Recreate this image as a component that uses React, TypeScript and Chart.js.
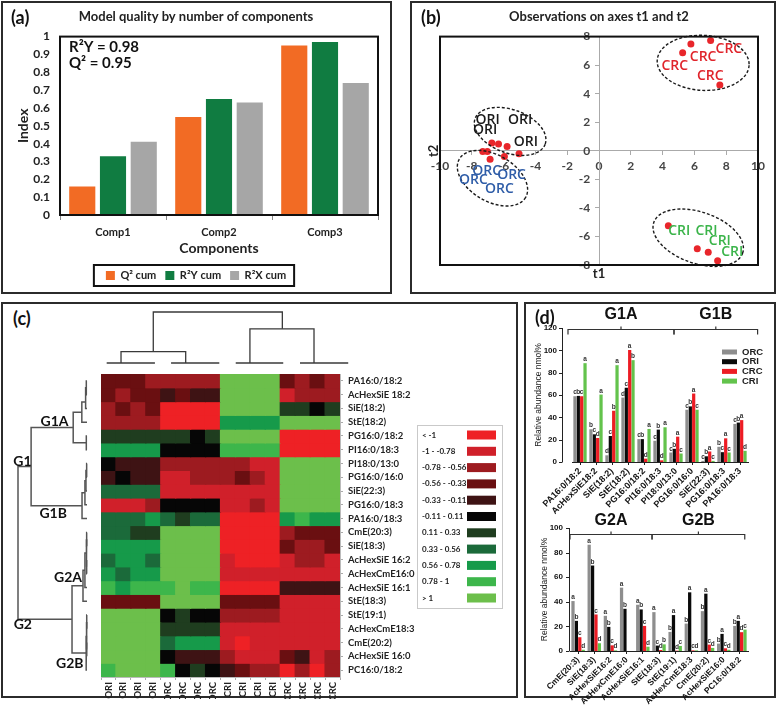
import React, { useEffect, useRef } from 'react';
import { Chart, registerables } from 'chart.js';

Chart.register(...registerables);

const LATO = 'Lato, "Open Sans", sans-serif';
const ARIAL = '"Liberation Sans", Arial, sans-serif';

// ================= Panel (a): model quality =================
const componentLabels = ['Comp1', 'Comp2', 'Comp3'];
const q2Cum = [0.16, 0.55, 0.95];
const r2yCum = [0.33, 0.65, 0.97];
const r2xCum = [0.41, 0.63, 0.74];
const modelStats = ['R²Y = 0.98', 'Q² = 0.95'];

// ================= Panel (b): observations t1/t2 =================
const crcT1 = [5.26, 5.78, 7.02, 7.6];
const crcT2 = [6.86, 7.49, 7.73, 4.61];
const criT1 = [4.36, 6.18, 6.87, 7.46];
const criT2 = [-5.25, -6.86, -7.1, -7.7];
const oriT1 = [-6.74, -6.32, -5.78, -5.03];
const oriT2 = [0.54, 0.47, 0.3, -0.21];
const orcT1 = [-7.31, -7.02, -6.85, -5.95];
const orcT2 = [-0.05, -0.05, -0.59, -0.4];

// ================= Panel (c): heat map =================
const sampleLabels = ['ORI', 'ORI', 'ORI', 'ORI', 'ORC', 'ORC', 'ORC', 'ORC', 'CRI', 'CRI', 'CRI', 'CRI', 'CRC', 'CRC', 'CRC', 'CRC'];
const lipidLabels = [
  'PA16:0/18:2', 'AcHexSiE 18:2', 'SiE(18:2)', 'StE(18:2)', 'PG16:0/18:2', 'PI16:0/18:3',
  'PI18:0/13:0', 'PG16:0/16:0', 'SiE(22:3)', 'PG16:0/18:3', 'PA16:0/18:3', 'CmE(20:3)',
  'SiE(18:3)', 'AcHexSiE 16:2', 'AcHexCmE16:0', 'AcHexSiE 16:1', 'StE(18:3)', 'StE(19:1)',
  'AcHexCmE18:3', 'CmE(20:2)', 'AcHexSiE 16:0', 'PC16:0/18:2',
];
const heatBinLabels = ['< -1', '-1 - -0.78', '-0.78 - -0.56', '-0.56 - -0.33', '-0.33 - -0.11', '-0.11 - 0.11', '0.11 - 0.33', '0.33 - 0.56', '0.56 - 0.78', '0.78 - 1', '> 1'];
// bin index (0 = "< -1" ... 10 = "> 1") per lipid row, per sample column
const heatBins = [
  [3, 3, 3, 2, 2, 2, 2, 2, 10, 10, 10, 10, 3, 2, 3, 2],
  [3, 2, 3, 3, 4, 3, 4, 4, 10, 10, 10, 10, 1, 2, 2, 2],
  [2, 3, 2, 3, 0, 0, 0, 0, 10, 10, 10, 10, 6, 6, 5, 6],
  [2, 2, 2, 2, 0, 0, 0, 0, 8, 8, 8, 8, 10, 10, 10, 10],
  [6, 6, 6, 6, 6, 6, 5, 6, 10, 10, 10, 10, 0, 0, 0, 0],
  [8, 8, 8, 8, 5, 5, 5, 5, 9, 9, 9, 9, 0, 0, 0, 0],
  [5, 4, 4, 4, 2, 2, 2, 2, 2, 2, 1, 1, 10, 10, 10, 10],
  [4, 5, 4, 4, 1, 1, 2, 2, 2, 3, 2, 1, 10, 10, 10, 10],
  [7, 7, 7, 7, 1, 1, 1, 1, 1, 1, 1, 1, 10, 10, 10, 10],
  [1, 1, 1, 2, 5, 5, 5, 5, 1, 1, 2, 1, 10, 10, 10, 10],
  [7, 7, 7, 8, 7, 6, 7, 7, 0, 0, 0, 0, 8, 9, 8, 8],
  [7, 7, 6, 6, 10, 10, 10, 10, 0, 0, 0, 0, 2, 3, 3, 3],
  [8, 8, 8, 8, 10, 10, 10, 10, 0, 0, 0, 0, 3, 2, 2, 3],
  [7, 8, 8, 7, 10, 10, 10, 10, 1, 0, 0, 0, 1, 2, 2, 1],
  [8, 7, 8, 8, 10, 10, 10, 10, 1, 1, 1, 1, 1, 1, 1, 1],
  [9, 8, 9, 9, 9, 10, 9, 9, 0, 0, 0, 0, 4, 4, 4, 4],
  [3, 3, 3, 3, 10, 10, 10, 10, 3, 3, 3, 3, 1, 1, 1, 1],
  [10, 10, 10, 10, 5, 6, 5, 5, 2, 2, 2, 2, 1, 1, 1, 1],
  [10, 10, 10, 10, 6, 6, 6, 6, 1, 1, 1, 1, 1, 1, 1, 1],
  [10, 10, 10, 10, 7, 8, 8, 8, 1, 0, 1, 1, 1, 1, 1, 1],
  [10, 10, 10, 10, 5, 4, 4, 4, 2, 1, 1, 1, 3, 4, 1, 2],
  [9, 10, 10, 10, 9, 5, 6, 5, 4, 3, 2, 2, 0, 2, 0, 2],
];
// dendrogram links: [left position, right position, left child height, right child height, merge height]
const colLinks = [
  [-0.12, 3.11, 0, 0, 0],
  [4.19, 7.42, 0, 0, 0],
  [8.52, 11.7, 0, 0, 0],
  [12.82, 16.05, 0, 0, 0],
  [0.84, 5.17, 0, 0, 0.224],
  [9.47, 13.76, 0, 0, 0.671],
  [3.0, 11.64, 0.224, 0.671, 1],
];
const rowLinks = [
  [0, 1, 0, 0, 0.01],
  [0.5, 2, 0.01, 0, 0.02],
  [1.54, 3, 0.02, 0, 0.075],
  [4, 5, 0, 0, 0.01],
  [2.27, 4.5, 0.075, 0.01, 0.2],
  [6, 7, 0, 0, 0.005],
  [6.5, 8, 0.005, 0, 0.015],
  [7.25, 9, 0.015, 0, 0.03],
  [8.12, 10, 0.03, 0, 0.072],
  [3.39, 9.06, 0.2, 0.072, 0.81],
  [11, 12, 0, 0, 0.005],
  [13, 14, 0, 0, 0.005],
  [11.5, 13.5, 0.005, 0.005, 0.01],
  [12.5, 15, 0.01, 0, 0.03],
  [13.75, 16, 0.03, 0, 0.058],
  [17, 18, 0, 0, 0.004],
  [19, 20, 0, 0, 0.004],
  [17.5, 19.5, 0.004, 0.004, 0.008],
  [18.5, 21, 0.008, 0, 0.012],
  [14.88, 19.75, 0.058, 0.012, 0.217],
  [6.22, 17.3, 0.81, 0.217, 1],
];
const rowClusterNames = ['G1', 'G1A', 'G1B', 'G2', 'G2A', 'G2B'];

// ================= Panel (d): relative abundance =================
const abundanceGroups = ['ORC', 'ORI', 'CRC', 'CRI'];
const g1Lipids = ['PA16:0/18:2', 'AcHexSiE18:2', 'SiE(18:2)', 'StE(18:2)', 'PG16:0/18:2', 'PI16:0/18:3', 'PI18:0/13:0', 'PG16:0/16:0', 'SiE(22:3)', 'PG16:0/18:3', 'PA16:0/18:3'];
const g1ORC = [58.9, 29.3, 6.0, 57.7, 20.5, 19.0, 8.5, 46.8, 1.0, 13.6, 34.1];
const g1ORI = [59.2, 24.8, 23.3, 66.5, 20.5, 29.0, 11.8, 49.8, 5.1, 8.8, 35.3];
const g1CRC = [58.9, 21.5, 45.9, 100.3, 3.0, 1.5, 22.7, 61.3, 9.4, 21.2, 37.5];
const g1CRI = [88.5, 60.4, 86.7, 91.2, 29.6, 31.1, 7.6, 46.8, 1.0, 8.5, 10.0];
const g1Letters = [
  ['c', 'b', 'd', 'd', 'c', 'c', 'c', 'c', 'c', 'b', 'c'],
  ['b', 'c', 'c', 'c', 'b', 'b', 'b', 'b', 'b', 'c', 'b'],
  ['c', 'd', 'b', 'a', 'd', 'd', 'a', 'a', 'a', 'a', 'a'],
  ['a', 'a', 'a', 'b', 'a', 'a', 'c', 'c', 'c', 'c', 'd'],
];
const g2Lipids = ['CmE(20:3)', 'SiE(18:3)', 'AcHexSiE16:2', 'AcHexCmE16:0', 'AcHexSiE16:1', 'StE(18:3)', 'StE(19:1)', 'AcHexCmE18:3', 'CmE(20:2)', 'AcHexSiE16:0', 'PC16:0/18:2'];
const g2ORC = [40.6, 86.4, 28.6, 51.5, 37.6, 31.6, 15.5, 22.3, 32.4, 6.0, 20.4];
const g2ORI = [24.5, 69.5, 19.6, 34.3, 33.8, 4.4, 29.2, 47.7, 46.6, 13.9, 24.5];
const g2CRC = [11.2, 29.7, 4.6, 0, 20.4, 0.8, 0.3, 0.5, 5.2, 2.2, 15.3];
const g2CRI = [1.0, 6.3, 0.5, 0, 3.5, 5.4, 4.1, 0.5, 2.5, 1.0, 17.4];
const g2Letters = [
  ['a', 'a', 'a', 'a', 'a', 'a', 'b', 'b', 'b', 'b', 'b'],
  ['b', 'b', 'b', 'b', 'b', 'c', 'a', 'a', 'a', 'a', 'a'],
  ['c', 'c', 'c', '', 'c', 'd', 'd', 'c', 'c', 'c', 'd'],
  ['d', 'd', 'd', '', 'd', 'b', 'c', 'd', 'd', 'd', 'c'],
];

// ================= styling / annotation config =================
const heatColors = ['#EE2125', '#D0202A', '#9D1B20', '#6A0F11', '#3E1314', '#060606', '#1F3D1F', '#1B6A3A', '#169A4A', '#3DB64B', '#6CBF4B'];
const groupColors = ['#8E8E8E', '#0A0A0A', '#ED1C24', '#63C34C'];
const scoreTagColors = { ORI: '#1A1A1A', ORC: '#2F5DA8', CRC: '#E0242B', CRI: '#3BB44A' };
const scoreTags = [
  ['ORI', -7.0, 2.18], ['ORI', -4.96, 2.18], ['ORI', -7.16, 1.43], ['ORI', -4.6, 0.59],
  ['ORC', -7.06, -1.4], ['ORC', -5.5, -1.69], ['ORC', -7.9, -2.04], ['ORC', -6.26, -2.67],
  ['CRC', 8.17, 7.1], ['CRC', 6.55, 6.58], ['CRC', 4.77, 5.93], ['CRC', 7.0, 5.22],
  ['CRI', 5.05, -5.62], ['CRI', 6.76, -5.62], ['CRI', 7.6, -6.3], ['CRI', 8.38, -7.07],
];
// ellipse centre in data units, radii in px, rotation in degrees
const scoreEllipses = [
  [6.55, 6.16, 46, 27.5, 3],
  [6.24, -6.09, 47, 25.7, 19],
  [-5.59, 1.36, 37.3, 21.7, 20],
  [-6.7, -1.92, 38.3, 23.3, 30],
];
const rowClusterTagPos = [[0.936, 5.86], [0.47, 2.95], [0.49, 9.6], [0.93, 17.7], [0.275, 14.3], [0.25, 20.5]];

// ================= plugins =================
const plotFrame = {
  id: 'plotFrame',
  afterDraw(chart: any) {
    const { ctx, chartArea: a } = chart;
    ctx.save();
    ctx.strokeStyle = '#111';
    ctx.lineWidth = 2;
    ctx.strokeRect(a.left, a.top, a.right - a.left, a.bottom - a.top);
    ctx.restore();
  },
};

const legendFrame = {
  id: 'legendFrame',
  afterDraw(chart: any) {
    const hb = chart.legend && chart.legend.legendHitBoxes;
    if (!hb || !hb.length) return;
    const { ctx } = chart;
    const left = Math.min(...hb.map((b: any) => b.left)) - 12;
    const right = Math.max(...hb.map((b: any) => b.left + b.width)) + 8;
    const top = hb[0].top - 5;
    const bottom = hb[0].top + hb[0].height + 5;
    ctx.save();
    ctx.strokeStyle = '#111';
    ctx.lineWidth = 2;
    ctx.strokeRect(left, top, right - left, bottom - top);
    ctx.restore();
  },
};

const statsText = {
  id: 'statsText',
  afterDraw(chart: any) {
    const { ctx, chartArea: a } = chart;
    ctx.save();
    ctx.fillStyle = '#111';
    ctx.font = `bold 15px ${LATO}`;
    ctx.textBaseline = 'middle';
    ctx.textAlign = 'left';
    modelStats.forEach((s, i) => ctx.fillText(s, a.left + 9, a.top + 11 + i * 15.5));
    ctx.restore();
  },
};

const ellipsesPlugin = {
  id: 'ellipses',
  afterDatasetsDraw(chart: any) {
    const { ctx, scales } = chart;
    ctx.save();
    ctx.strokeStyle = '#1a1a1a';
    ctx.lineWidth = 1.4;
    ctx.setLineDash([3, 2]);
    scoreEllipses.forEach(([cx, cy, rx, ry, rot]) => {
      ctx.beginPath();
      ctx.ellipse(scales.x.getPixelForValue(cx), scales.y.getPixelForValue(cy), rx, ry, (rot * Math.PI) / 180, 0, Math.PI * 2);
      ctx.stroke();
    });
    ctx.restore();
  },
};

const scoreTagsPlugin = {
  id: 'scoreTags',
  afterDatasetsDraw(chart: any) {
    const { ctx, scales } = chart;
    ctx.save();
    ctx.font = `600 14px "Open Sans", sans-serif`;
    ctx.textAlign = 'center';
    ctx.textBaseline = 'middle';
    scoreTags.forEach(([g, x, y]: any) => {
      ctx.fillStyle = (scoreTagColors as any)[g];
      ctx.fillText(g, scales.x.getPixelForValue(x), scales.y.getPixelForValue(y));
    });
    ctx.restore();
  },
};

const axisNames = {
  id: 'axisNames',
  afterDraw(chart: any) {
    const { ctx, chartArea: a, scales } = chart;
    ctx.save();
    ctx.fillStyle = '#222';
    ctx.font = `bold 13px ${LATO}`;
    ctx.textAlign = 'center';
    ctx.textBaseline = 'middle';
    ctx.fillText('t1', scales.x.getPixelForValue(0), a.bottom + 9);
    ctx.translate(a.left - 6, scales.y.getPixelForValue(0));
    ctx.rotate(-Math.PI / 2);
    ctx.fillText('t2', 0, 0);
    ctx.restore();
  },
};

const heatLegend = {
  id: 'heatLegend',
  afterDraw(chart: any) {
    const { ctx, chartArea: a } = chart;
    const x0 = a.right + 77;
    const y0 = a.top + 51;
    ctx.save();
    ctx.strokeStyle = '#c9c9c9';
    ctx.lineWidth = 1;
    ctx.strokeRect(x0 + 0.5, y0 + 0.5, 85, 183);
    ctx.font = `bold 8px ${LATO}`;
    ctx.textBaseline = 'middle';
    ctx.textAlign = 'left';
    heatBinLabels.forEach((lab, i) => {
      const cy = y0 + 10 + i * 16.3;
      ctx.fillStyle = '#222';
      ctx.fillText(lab, x0 + 5, cy);
      ctx.fillStyle = heatColors[i];
      ctx.fillRect(x0 + 50, cy - 4.5, 29, 9);
    });
    ctx.restore();
  },
};

const clusterTags = {
  id: 'clusterTags',
  afterDraw(chart: any) {
    const { ctx, scales } = chart;
    ctx.save();
    ctx.fillStyle = '#111';
    ctx.font = `bold 14px ${LATO}`;
    ctx.textAlign = 'center';
    ctx.textBaseline = 'middle';
    rowClusterNames.forEach((n, i) => {
      const [h, r] = rowClusterTagPos[i];
      ctx.fillText(n, scales.x.getPixelForValue(h), scales.y.getPixelForValue(r));
    });
    ctx.restore();
  },
};

const offsetYAxis = {
  id: 'offsetYAxis',
  afterDraw(chart: any, _args: any, opts: any) {
    const { ctx, chartArea: a, scales } = chart;
    const x = a.left - opts.offset;
    ctx.save();
    ctx.strokeStyle = '#222';
    ctx.lineWidth = 1;
    ctx.beginPath();
    ctx.moveTo(x + 0.5, a.top);
    ctx.lineTo(x + 0.5, a.bottom);
    scales.y.ticks.forEach((t: any) => {
      const y = Math.round(scales.y.getPixelForValue(t.value)) + 0.5;
      ctx.moveTo(x - 3, y);
      ctx.lineTo(x + 0.5, y);
    });
    ctx.stroke();
    ctx.restore();
  },
};

const sigLetters = {
  id: 'sigLetters',
  afterDatasetsDraw(chart: any, _args: any, opts: any) {
    const { ctx } = chart;
    ctx.save();
    ctx.font = `bold 6.5px ${ARIAL}`;
    ctx.fillStyle = '#333';
    ctx.textAlign = 'center';
    ctx.textBaseline = 'bottom';
    chart.data.datasets.forEach((_ds: any, di: number) => {
      chart.getDatasetMeta(di).data.forEach((el: any, i: number) => {
        const t = opts.letters[di][i];
        if (t) ctx.fillText(t, el.x, el.y - 0.5);
      });
    });
    ctx.restore();
  },
};

const brackets = {
  id: 'brackets',
  afterDraw(chart: any, _args: any, opts: any) {
    const { ctx, scales } = chart;
    const y = Math.round(scales.y.getPixelForValue(opts.level)) + 0.5;
    ctx.save();
    ctx.strokeStyle = '#333';
    ctx.lineWidth = 1.2;
    ctx.fillStyle = '#111';
    ctx.font = `bold 16px ${ARIAL}`;
    ctx.textAlign = 'center';
    ctx.textBaseline = 'middle';
    opts.groups.forEach(([name, from, to]: any) => {
      const x1 = scales.x.getPixelForValue(from);
      const x2 = scales.x.getPixelForValue(to);
      const xm = (x1 + x2) / 2;
      ctx.beginPath();
      ctx.moveTo(x1, y + 5);
      ctx.lineTo(x1, y);
      ctx.lineTo(x2, y);
      ctx.lineTo(x2, y + 5);
      ctx.moveTo(xm, y);
      ctx.lineTo(xm, y - 3);
      ctx.stroke();
      ctx.fillText(name, xm, y - opts.labelGap);
    });
    ctx.restore();
  },
};

const groupLegend = {
  id: 'groupLegend',
  afterDraw(chart: any, _args: any, opts: any) {
    if (!opts.show) return;
    const { ctx, chartArea: a } = chart;
    ctx.save();
    ctx.font = `bold 9.5px ${ARIAL}`;
    ctx.textBaseline = 'middle';
    ctx.textAlign = 'left';
    chart.data.datasets.forEach((ds: any, i: number) => {
      const cy = a.top + 24 + i * 9.7;
      ctx.fillStyle = ds.backgroundColor;
      ctx.fillRect(a.right - 26, cy - 2.5, 15, 5);
      ctx.fillStyle = '#222';
      ctx.fillText(ds.label, a.right - 6, cy);
    });
    ctx.restore();
  },
};

// ================= chart builders =================
const boldLato = (size: number) => ({ family: LATO, size, weight: 'bold' as const });
const boldArial = (size: number) => ({ family: ARIAL, size, weight: 'bold' as const });

const buildA = () => ({
  type: 'bar',
  data: {
    labels: componentLabels,
    datasets: [
      { label: 'Q² cum', data: q2Cum, backgroundColor: '#F26B24' },
      { label: 'R²Y cum', data: r2yCum, backgroundColor: '#107C41' },
      { label: 'R²X cum', data: r2xCum, backgroundColor: '#A6A6A6' },
    ],
  },
  options: {
    responsive: false,
    animation: false,
    layout: { padding: { left: 11, right: 11, top: 0, bottom: 0 } },
    datasets: { bar: { categoryPercentage: 0.87, barPercentage: 0.85 } },
    scales: {
      x: {
        grid: { drawOnChartArea: false, tickLength: 5, color: '#888', offset: true },
        border: { display: false },
        ticks: { color: '#222', padding: 6, font: boldLato(11) },
        title: { display: true, text: 'Components', color: '#222', font: boldLato(14), padding: { top: 0, bottom: 4 } },
        afterFit: (s: any) => { s.height = 46; },
      },
      y: {
        min: 0,
        max: 1,
        grid: { display: false, drawTicks: false },
        border: { display: false },
        ticks: { stepSize: 0.1, padding: 10, color: '#222', font: boldLato(12), callback: (v: any) => String(Math.round(v * 10) / 10) },
        title: { display: true, text: 'Index', color: '#222', font: boldLato(14), padding: { top: 1, bottom: 0 } },
        afterFit: (s: any) => { s.width = 46; },
      },
    },
    plugins: {
      title: { display: true, text: 'Model quality by number of components', color: '#222', font: boldLato(13), padding: { top: 6, bottom: 12 } },
      legend: { position: 'bottom', labels: { boxWidth: 9, boxHeight: 9, padding: 9, color: '#222', font: boldLato(11) } },
      tooltip: { enabled: false },
    },
  },
  plugins: [plotFrame, legendFrame, statsText],
});

const pts = (xs: number[], ys: number[]) => xs.map((x, i) => ({ x, y: ys[i] }));

const buildB = () => ({
  type: 'scatter',
  data: {
    datasets: [
      { label: 'CRC', data: pts(crcT1, crcT2) },
      { label: 'CRI', data: pts(criT1, criT2) },
      { label: 'ORI', data: pts(oriT1, oriT2) },
      { label: 'ORC', data: pts(orcT1, orcT2) },
    ].map((d) => ({ ...d, backgroundColor: '#E8262B', borderColor: '#E8262B', pointRadius: 3.5, borderWidth: 0 })),
  },
  options: {
    responsive: false,
    animation: false,
    layout: { padding: { left: 28, right: 16, top: 0, bottom: 26 } },
    scales: {
      x: {
        type: 'linear', position: { y: 0 }, min: -10, max: 10,
        ticks: { stepSize: 2, padding: 4, color: '#444', font: boldLato(12) },
        grid: { drawOnChartArea: false, tickLength: 4, color: '#aaa' },
        border: { color: '#aaa' },
      },
      y: {
        type: 'linear', position: { x: 0 }, min: -8, max: 8,
        ticks: { stepSize: 2, padding: 3, color: '#444', font: boldLato(12), callback: (v: any) => `${v}   ` },
        grid: { drawOnChartArea: false, tickLength: 4, color: '#aaa' },
        border: { color: '#aaa' },
      },
    },
    plugins: {
      title: { display: true, text: 'Observations on axes t1 and t2', color: '#222', font: boldLato(13), padding: { top: 6, bottom: 12 } },
      legend: { display: false },
      tooltip: { enabled: false },
    },
  },
  plugins: [plotFrame, ellipsesPlugin, scoreTagsPlugin, axisNames],
});

const buildHeat = () => ({
  type: 'bar',
  data: {
    labels: sampleLabels,
    datasets: lipidLabels.map((name, r) => ({
      label: name,
      data: heatBins[r].map(() => [r - 0.5, r + 0.5]),
      backgroundColor: heatBins[r].map((b) => heatColors[b]),
      grouped: false,
      barPercentage: 1,
      categoryPercentage: 1,
      borderWidth: 0,
      inflateAmount: 0.6,
    })),
  },
  options: {
    responsive: false,
    animation: false,
    layout: { padding: { left: 0, right: 90, top: 0, bottom: 0 } },
    scales: {
      x: {
        ticks: { minRotation: 90, maxRotation: 90, autoSkip: false, padding: 2, color: '#222', font: boldLato(9.5) },
        grid: { drawOnChartArea: false, tickLength: 3, color: '#aaa', offset: true },
        border: { color: '#bbb' },
        afterFit: (s: any) => { s.height = 22; s.paddingLeft = 0; s.paddingRight = 0; },
      },
      y: {
        type: 'linear', position: 'right', reverse: true, min: -0.5, max: 21.5,
        afterBuildTicks: (s: any) => { s.ticks = lipidLabels.map((_n, i) => ({ value: i })); },
        ticks: { autoSkip: false, padding: 5, color: '#222', font: boldLato(9.5), callback: (v: any) => lipidLabels[v] ?? '' },
        grid: { drawOnChartArea: false, tickLength: 3, color: '#aaa' },
        border: { color: '#bbb' },
        afterFit: (s: any) => { s.width = 80; s.paddingTop = 0; s.paddingBottom = 0; },
      },
    },
    plugins: { legend: { display: false }, tooltip: { enabled: false } },
  },
  plugins: [heatLegend],
});

const buildColDendro = () => ({
  type: 'scatter',
  data: {
    datasets: colLinks.map(([a, b, ha, hb, h]) => ({
      data: [{ x: a, y: ha }, { x: a, y: h }, { x: b, y: h }, { x: b, y: hb }],
      showLine: true, borderColor: '#3a3a3a', borderWidth: 1.3, pointRadius: 0, clip: false,
    })),
  },
  options: {
    responsive: false,
    animation: false,
    layout: { padding: { left: 4, right: 12, top: 3, bottom: 3 } },
    scales: {
      x: { type: 'linear', min: -0.5, max: 15.5, display: false },
      y: { type: 'linear', min: 0, max: 1, display: false },
    },
    plugins: { legend: { display: false }, tooltip: { enabled: false } },
  },
});

const buildRowDendro = () => ({
  type: 'scatter',
  data: {
    datasets: rowLinks.map(([a, b, ha, hb, h]) => ({
      data: [{ x: ha, y: a }, { x: h, y: a }, { x: h, y: b }, { x: hb, y: b }],
      showLine: true, borderColor: '#555', borderWidth: 1.5, pointRadius: 0, clip: false,
    })),
  },
  options: {
    responsive: false,
    animation: false,
    layout: { padding: { left: 14, right: 4, top: 4, bottom: 4 } },
    scales: {
      x: { type: 'linear', min: 0, max: 1, reverse: true, display: false },
      y: { type: 'linear', min: -0.5, max: 21.5, reverse: true, display: false },
    },
    plugins: { legend: { display: false }, tooltip: { enabled: false } },
  },
  plugins: [clusterTags],
});

const buildAbundance = (cfg: any) => () => ({
  type: 'bar',
  data: {
    labels: cfg.labels,
    datasets: cfg.series.map((s: number[], i: number) => ({ label: abundanceGroups[i], data: s, backgroundColor: groupColors[i] })),
  },
  options: {
    responsive: false,
    animation: false,
    layout: { padding: { left: 0, right: 26, top: 23, bottom: 0 } },
    datasets: { bar: { categoryPercentage: 0.84, barPercentage: 0.96 } },
    scales: {
      x: {
        ticks: { minRotation: 45, maxRotation: 45, autoSkip: false, padding: 1, color: '#111', font: boldArial(cfg.xFont) },
        grid: { drawOnChartArea: false, tickLength: 3, color: '#222', offset: false },
        border: { color: '#222' },
        afterFit: (s: any) => { s.height = cfg.xHeight; s.paddingLeft = 0; s.paddingRight = 0; },
      },
      y: {
        min: 0, max: cfg.max,
        grid: { display: false, drawTicks: false },
        border: { display: false },
        ticks: { stepSize: 20, padding: cfg.tickPad, color: '#111', font: boldArial(8) },
        title: { display: true, text: 'Relative abundance nmol%', color: '#222', font: { family: ARIAL, size: 8.5 }, padding: { top: cfg.titlePad, bottom: 0 } },
        afterFit: (s: any) => { s.width = cfg.yWidth; },
      },
    },
    plugins: {
      legend: { display: false },
      tooltip: { enabled: false },
      sigLetters: { letters: cfg.letters },
      brackets: { groups: cfg.groups, level: cfg.level, labelGap: cfg.labelGap },
      offsetYAxis: { offset: cfg.axisOffset },
      groupLegend: { show: cfg.legend },
    },
  },
  plugins: [sigLetters, brackets, offsetYAxis, groupLegend],
});

const buildG1 = buildAbundance({
  labels: g1Lipids, series: [g1ORC, g1ORI, g1CRC, g1CRI], letters: g1Letters, max: 120,
  groups: [['G1A', -0.75, 5.875], ['G1B', 5.875, 11.1]], level: 119.5, labelGap: 15,
  xHeight: 58, yWidth: 45, tickPad: 15, titlePad: 7, axisOffset: 10, legend: true, xFont: 9,
});
const buildG2 = buildAbundance({
  labels: g2Lipids, series: [g2ORC, g2ORI, g2CRC, g2CRI], letters: g2Letters, max: 100,
  groups: [['G2A', -0.5, 4.57], ['G2B', 4.57, 10.3]], level: 95, labelGap: 14,
  xHeight: 54, yWidth: 43, tickPad: 7, titlePad: 13, axisOffset: 1, legend: false, xFont: 8.5,
});

// ================= components =================
function ChartCanvas({ box, build }: { box: number[]; build: () => any }) {
  const ref = useRef<HTMLCanvasElement>(null);
  useEffect(() => {
    const chart = new Chart(ref.current as HTMLCanvasElement, build());
    return () => chart.destroy();
  }, []);
  const [left, top, width, height] = box;
  return <canvas ref={ref} width={width} height={height} style={{ position: 'absolute', left, top, width, height }} />;
}

function Frame({ box }: { box: number[] }) {
  const [left, top, width, height] = box;
  return <div style={{ position: 'absolute', left, top, width, height, border: '2px solid #2b2b2b', boxSizing: 'border-box' }} />;
}

function Tag({ text, left, top }: { text: string; left: number; top: number }) {
  return (
    <div style={{ position: 'absolute', left, top, font: `bold 18px ${LATO}`, lineHeight: '18px', color: '#111', whiteSpace: 'nowrap' }}>{text}</div>
  );
}

export default function App() {
  return (
    <div style={{ position: 'absolute', left: 0, top: 0, width: 777, height: 707, background: '#fff', overflow: 'hidden' }}>
      <Frame box={[1, 1, 391, 293]} />
      <Frame box={[410, 1, 366, 293]} />
      <Frame box={[1, 302, 517, 396]} />
      <Frame box={[524, 302, 252, 396]} />
      <ChartCanvas box={[3, 3, 386, 288]} build={buildA} />
      <ChartCanvas box={[412, 3, 362, 288]} build={buildB} />
      <ChartCanvas box={[101, 374, 409, 325]} build={buildHeat} />
      <ChartCanvas box={[97, 309, 255, 57]} build={buildColDendro} />
      <ChartCanvas box={[4, 370, 87, 311]} build={buildRowDendro} />
      <ChartCanvas box={[527, 305, 247, 215]} build={buildG1} />
      <ChartCanvas box={[527, 505, 247, 200]} build={buildG2} />
      <Tag text="(a)" left={11} top={8} />
      <Tag text="(b)" left={421} top={8} />
      <Tag text="(c)" left={13} top={309} />
      <Tag text="(d)" left={535} top={308} />
    </div>
  );
}
